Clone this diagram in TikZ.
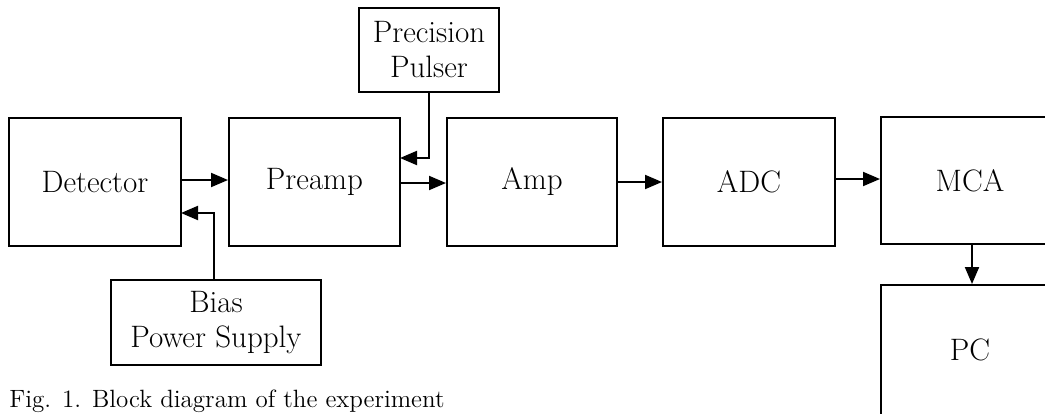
\documentclass[tikz,border=0pt]{standalone}
\usepackage{tikz}
\usetikzlibrary{arrows.meta,positioning,calc}

\tikzset{
  block/.style={draw, line width=1pt, inner sep=0pt, font=\fontsize{15.5}{17.5}\selectfont, align=center},
  link/.style={line width=1pt, -{Triangle[length=8.5pt,width=7pt]}}
}

\begin{document}
\begin{tikzpicture}[x=0.5pt, y=-0.5pt]
        \useasboundingbox (0,0) rectangle (1045,413);

        % Main signal chain
        \node[block, minimum width=86pt, minimum height=64pt] (det) at (95,182) {Detector};
        \node[block, minimum width=85.5pt, minimum height=64pt] (pre) at (314.5,182) {Preamp};
        \node[block, minimum width=85pt, minimum height=64pt] (amp) at (532,182) {Amp};
        \node[block, minimum width=86pt, minimum height=64pt] (adc) at (749,182) {ADC};
        \node[block, minimum width=89pt, minimum height=63.5pt] (mca) at (970,180.5) {MCA};
        \node[block, minimum width=89pt, minimum height=65pt] (pc) at (970,350) {PC};

        % Auxiliary units
        \node[block, minimum width=70pt, minimum height=42pt] (pul) at (429,50) {Precision\\Pulser};
        \node[block, minimum width=105pt, minimum height=42.5pt] (bias) at (216,322.5) {Bias\\Power Supply};

        % Inputs of the side lines
        \coordinate (pulin) at (400,158);
        \coordinate (biasin) at (181,213);

        % Connectors
        \draw[link] ($(det.east)+(0,-2)$) -- ($(pre.west)+(0,-2)$);
        \draw[link] ($(pre.east)+(0,1)$) -- ($(amp.west)+(0,1)$);
        \draw[link] (amp.east) -- (adc.west);
        \draw[link] ($(adc.east)+(0,-3)$) -- ($(adc.east -| mca.west)+(0,-3)$);
        \draw[link] ($(mca.south)+(2,0)$) -- ($(pc.north)+(2,0)$);
        \draw[link] (pul.south) |- (pulin);
        \draw[link] ($(bias.north)+(-2,0)$) |- (biasin);

        % Caption
        \node[anchor=base west, inner sep=0pt, font=\fontsize{12.5}{15}\selectfont] (cap) at (9,407) {Fig. 1. Block diagram of the experiment};
\end{tikzpicture}
\end{document}
